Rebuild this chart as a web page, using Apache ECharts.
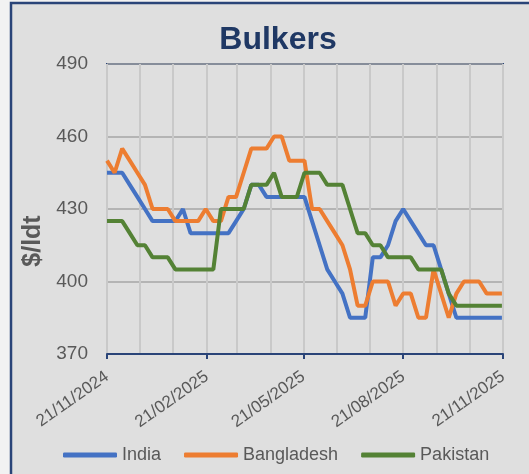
<!DOCTYPE html>
<html>
<head>
<meta charset="utf-8">
<script src="https://cdn.jsdelivr.net/npm/echarts@6/dist/echarts.min.js"></script>
<style>
  html, body { margin: 0; padding: 0; background: #f2f2f2; }
  #chart { width: 529px; height: 474px; }
</style>
</head>
<body>
<div id="chart"></div>
<script>
  // weekly prices, $/ldt, first week 21/11/2024
  var seriesNames = ['India', 'Bangladesh', 'Pakistan'];
  var india = [445, 445, 445, 440, 435, 430, 425, 425, 425, 425, 430, 420, 420, 420, 420, 420, 420, 425, 430, 440,
    440, 435, 435, 435, 435, 435, 435, 425, 415, 405, 400, 395, 385, 385, 385, 410, 410, 415, 425, 430,
    425, 420, 415, 415, 405, 395, 385, 385, 385, 385, 385, 385, 385];
  var bangladesh = [450, 445, 455, 450, 445, 440, 430, 430, 430, 425, 425, 425, 425, 430, 425, 425, 435, 435, 445, 455,
    455, 455, 460, 460, 450, 450, 450, 430, 430, 425, 420, 415, 405, 390, 390, 400, 400, 400, 390, 395,
    395, 385, 385, 405, 395, 385, 395, 400, 400, 400, 395, 395, 395];
  var pakistan = [425, 425, 425, 420, 415, 415, 410, 410, 410, 405, 405, 405, 405, 405, 405, 430, 430, 430, 430, 440,
    440, 440, 445, 435, 435, 435, 445, 445, 445, 440, 440, 440, 430, 420, 420, 415, 415, 410, 410, 410,
    410, 405, 405, 405, 405, 395, 390, 390, 390, 390, 390, 390, 390];
  var tickLabels = ['21/11/2024', '21/02/2025', '21/05/2025', '21/08/2025', '21/11/2025'];
  var colors = ['#4472c4', '#ed7d31', '#548235'];

  var DAY = 86400000;
  var start = Date.UTC(2024, 10, 21);
  var end = Date.UTC(2025, 10, 21);

  function fmt(t) {
    var d = new Date(t);
    var dd = ('0' + d.getUTCDate()).slice(-2);
    var mm = ('0' + (d.getUTCMonth() + 1)).slice(-2);
    return dd + '/' + mm + '/' + d.getUTCFullYear();
  }

  // one category per day so the axis is a real date scale
  var days = [];
  for (var t = start; t <= end; t += DAY) days.push(fmt(t));

  function toPoints(vals) {
    return vals.map(function (v, i) { return [fmt(start + i * 7 * DAY), v]; });
  }

  var chart = echarts.init(document.getElementById('chart'));
  var font = 'Liberation Sans';

  chart.setOption({
    backgroundColor: '#f2f2f2',
    animation: false,
    color: colors,
    textStyle: { fontFamily: font },
    graphic: [
      {
        type: 'rect', z: -10, silent: true,
        shape: { x: 11, y: 3, width: 600, height: 600 },
        style: { fill: '#dfdfdf', stroke: '#2a4478', lineWidth: 2.5 }
      },
      {
        type: 'text', x: 278, y: 40,
        style: { text: 'Bulkers', fill: '#1f3864', font: 'bold 32px ' + font, textAlign: 'center', textVerticalAlign: 'middle' }
      },
      {
        type: 'text', x: 33, y: 241, rotation: Math.PI / 2,
        style: { text: '$/ldt', fill: '#595959', font: 'bold 25px ' + font, textAlign: 'center', textVerticalAlign: 'middle' }
      }
    ],
    grid: {
      left: 107, right: 26, top: 64, bottom: 120,
      show: true, borderColor: '#2a4478', borderWidth: 2, backgroundColor: 'transparent'
    },
    legend: {
      left: 58, top: 441,
      icon: 'roundRect', itemWidth: 54, itemHeight: 5, itemGap: 23,
      textStyle: { color: '#595959', fontSize: 18, fontFamily: font },
      data: seriesNames
    },
    xAxis: {
      type: 'category',
      data: days,
      boundaryGap: false,
      axisLine: { lineStyle: { color: '#2a4478', width: 2 } },
      axisTick: {
        length: 5,
        lineStyle: { color: '#2a4478', width: 2 },
        interval: function (i, v) { return tickLabels.indexOf(v) >= 0; }
      },
      axisLabel: {
        color: '#595959', fontSize: 17, rotate: 35, margin: 21,
        interval: function (i, v) { return tickLabels.indexOf(v) >= 0; }
      },
      splitLine: {
        show: true,
        lineStyle: { color: '#c9c9c9', width: 2 },
        interval: function (i, v) { return v.slice(0, 2) === '21'; }
      }
    },
    yAxis: {
      type: 'value',
      min: 370, max: 490, interval: 30,
      axisLine: { show: false },
      axisTick: { show: false },
      axisLabel: { color: '#595959', fontSize: 19, margin: 19 },
      splitLine: { lineStyle: { color: '#a6a6a6', width: 1.5 } }
    },
    series: [
      { name: seriesNames[0], type: 'line', data: toPoints(india), showSymbol: false, symbol: 'none', lineStyle: { width: 4 } },
      { name: seriesNames[1], type: 'line', data: toPoints(bangladesh), showSymbol: false, symbol: 'none', lineStyle: { width: 4 } },
      { name: seriesNames[2], type: 'line', data: toPoints(pakistan), showSymbol: false, symbol: 'none', lineStyle: { width: 4 } }
    ]
  });
</script>
</body>
</html>
